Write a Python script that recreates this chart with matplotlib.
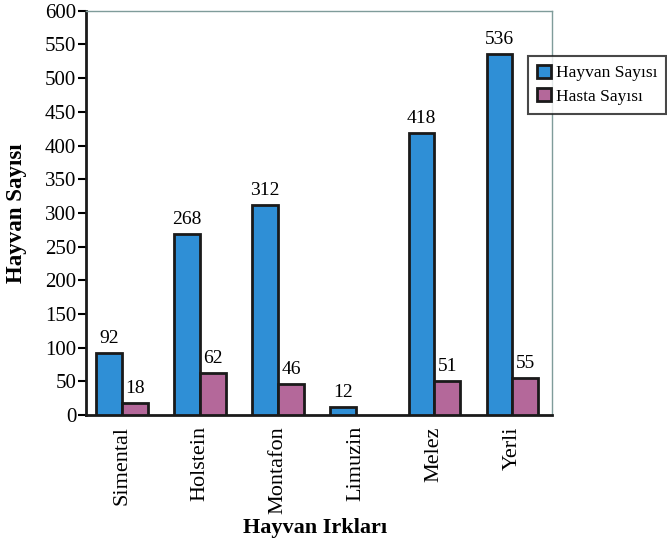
import matplotlib.pyplot as plt
import numpy as np

# breeds and counts
breeds = ['Simental', 'Holstein', 'Montafon', 'Limuzin', 'Melez', 'Yerli']
hayvan_sayisi = [92, 268, 312, 12, 418, 536]
hasta_sayisi = [18, 62, 46, 0, 51, 55]

plt.rcParams['font.family'] = ['Liberation Serif', 'DejaVu Serif']

fig = plt.figure(figsize=(6.67, 5.41), dpi=100)
ax = fig.add_axes([0.129, 0.233, 0.699, 0.747])

x = np.arange(len(breeds))
w = 0.33
blue = '#2f8fd6'
pink = '#b4689a'

b1 = ax.bar(x - w / 2, hayvan_sayisi, w, color=blue, edgecolor='#1a1a1a',
            linewidth=2, label='Hayvan Sayısı', zorder=3)
# Limuzin has no sick animals, so no second bar there
hasta = np.array(hasta_sayisi, dtype=float)
hasta[hasta == 0] = np.nan
b2 = ax.bar(x + w / 2, hasta, w, color=pink, edgecolor='#1a1a1a',
            linewidth=2, label='Hasta Sayısı', zorder=3)

# value labels over the bars
for xi, v in zip(x - w / 2, hayvan_sayisi):
    ax.text(xi, v + 9, str(v), ha='center', va='bottom', fontsize=14)
for xi, v in zip(x + w / 2, hasta_sayisi):
    if v > 0:
        ax.text(xi, v + 9, str(v), ha='center', va='bottom', fontsize=14)

ax.set_xlim(-0.46, 5.51)
ax.set_ylim(0, 600)
ax.set_yticks(np.arange(0, 601, 50))
ax.tick_params(axis='y', labelsize=15, length=6, width=1.5, direction='out', pad=1)
ax.set_xticks(x)
ax.set_xticklabels(breeds, rotation=90, fontsize=16)
ax.tick_params(axis='x', length=0, pad=8)

for side in ['left', 'bottom']:
    ax.spines[side].set_linewidth(2)
    ax.spines[side].set_color('#1a1a1a')
for side in ['top', 'right']:
    ax.spines[side].set_linewidth(1)
    ax.spines[side].set_color('#7f9c9a')

ax.set_ylabel('Hayvan Sayısı', fontsize=16.5, fontweight='bold')
ax.yaxis.set_label_coords(-0.126, 0.5)
ax.set_xlabel('Hayvan Irkları', fontsize=16, fontweight='bold')
ax.xaxis.set_label_coords(0.491, -0.255)

leg = ax.legend(loc='upper left', bbox_to_anchor=(0.93, 0.91), fontsize=12.5,
                frameon=True, fancybox=False, edgecolor='#1a1a1a',
                handlelength=0.8, handleheight=0.8, handletextpad=0.3,
                borderpad=0.5, labelspacing=0.4)
leg.get_frame().set_linewidth(1.5)
leg.set_zorder(5)

plt.savefig('out.png', dpi=100)
